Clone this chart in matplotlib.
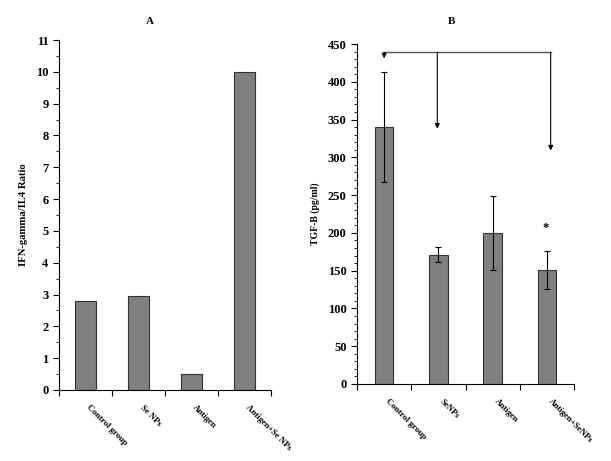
import numpy as np
import matplotlib.pyplot as plt
from matplotlib.ticker import MultipleLocator, FixedLocator, NullFormatter

plt.rcParams['font.family'] = 'Liberation Serif'
plt.rcParams['font.weight'] = 'bold'

# Panel A data
groups_a = ['Control group', 'Se NPs', 'Antigen', 'Antigen+Se NPs']
ratio_a = [2.8, 2.95, 0.5, 10.0]

# Panel B data
groups_b = ['Control group', 'SeNPs', 'Antigen', 'Antigen+SeNPs']
tgf_b = [340, 171, 200, 151]
tgf_err = [73, 10, 49, 25]

bar_color = '#808080'

fig = plt.figure(figsize=(6.11, 4.61), dpi=100)
ax1 = fig.add_axes([59 / 611, 1 - 390 / 461, 212 / 611, 350 / 461])
ax2 = fig.add_axes([357 / 611, 1 - 384 / 461, 217 / 611, 340 / 461])


def style_axes(ax, labels):
    x = np.arange(len(labels))
    ax.set_xlim(-0.5, len(labels) - 0.5)
    ax.spines['top'].set_visible(False)
    ax.spines['right'].set_visible(False)
    ax.xaxis.set_major_locator(FixedLocator(np.arange(len(labels) + 1) - 0.5))
    ax.xaxis.set_major_formatter(NullFormatter())
    ax.xaxis.set_minor_locator(FixedLocator(x + 0.05))
    ax.set_xticklabels(labels, minor=True, rotation=-45, ha='left', va='center',
                       rotation_mode='anchor', fontsize=6.3, fontweight='bold')
    ax.tick_params(axis='x', which='minor', length=0, pad=12)
    ax.tick_params(axis='x', which='major', length=4, width=0.8, direction='out')
    ax.tick_params(axis='y', which='major', length=4, labelsize=9)
    ax.tick_params(axis='y', which='minor', length=2)
    for lab in ax.get_yticklabels():
        lab.set_fontweight('bold')


# Panel A
ax1.bar(np.arange(4), ratio_a, width=0.4, color=bar_color, edgecolor='#333333', linewidth=0.8)
ax1.set_ylim(0, 11)
ax1.yaxis.set_major_locator(MultipleLocator(1))
ax1.yaxis.set_minor_locator(MultipleLocator(0.5))
style_axes(ax1, groups_a)
ax1.set_ylabel('IFN-gamma/IL4 Ratio', fontsize=7.7, fontweight='bold', labelpad=6)
fig.text(150 / 611, 1 - 22 / 461, 'A', ha='center', va='center', fontsize=8, fontweight='bold')

# Panel B
ax2.bar(np.arange(4), tgf_b, width=0.34, color=bar_color, edgecolor='#333333', linewidth=0.8,
        yerr=tgf_err, error_kw=dict(ecolor='black', elinewidth=0.8, capsize=2, capthick=0.8))
ax2.set_ylim(0, 450)
ax2.yaxis.set_major_locator(MultipleLocator(50))
ax2.yaxis.set_minor_locator(MultipleLocator(10))
style_axes(ax2, groups_b)
ax2.set_ylabel('TGF-B (pg/ml)', fontsize=7, fontweight='bold', labelpad=6)
fig.text(452 / 611, 1 - 21 / 461, 'B', ha='center', va='center', fontsize=8, fontweight='bold')

# significance bracket with arrows
bracket_y = 439
arrow_x = [0.0, 0.98, 3.07]
arrow_tips = [431, 338, 309]
ax2.plot([arrow_x[0], arrow_x[-1]], [bracket_y, bracket_y], color='#555555', lw=1.0, clip_on=False)
for xa, tip in zip(arrow_x, arrow_tips):
    ax2.annotate('', xy=(xa, tip), xytext=(xa, bracket_y),
                 arrowprops=dict(arrowstyle='-|>', color='black', lw=0.8,
                                 mutation_scale=7, shrinkA=0, shrinkB=0))
ax2.text(2.98, 198, '*', ha='center', va='bottom', fontsize=9, fontweight='bold')

fig.savefig('out.png', dpi=100)
